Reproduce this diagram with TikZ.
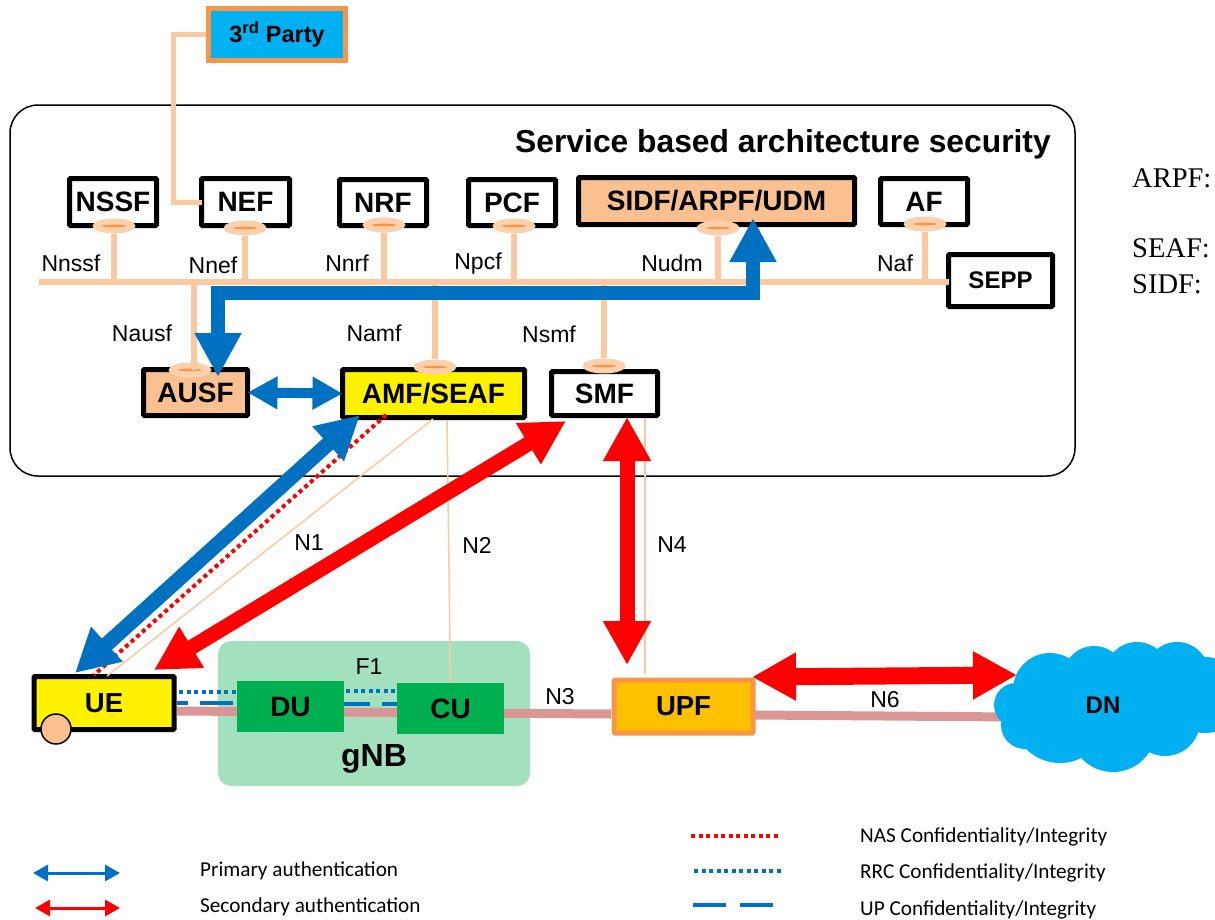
\documentclass[tikz,border=0pt]{standalone}
\usepackage{fontspec}
\setmainfont{Liberation Sans}
\newfontfamily\serifface{Liberation Serif}
\newfontfamily\legendface{Carlito}
\usetikzlibrary{arrows.meta,shapes.geometric}
\definecolor{peach}{HTML}{FBC9A0}
\definecolor{peachfill}{HTML}{FAC090}
\definecolor{orangeb}{HTML}{F79646}
\definecolor{bluea}{HTML}{0070C0}
\definecolor{redb}{HTML}{FF0000}
\definecolor{skyb}{HTML}{00B0F0}
\definecolor{pinkl}{HTML}{D99694}
\definecolor{gnbg}{HTML}{A3E1BE}
\definecolor{greenb}{HTML}{00B050}
\definecolor{upfy}{HTML}{FFC000}
\newcommand{\fsz}[1]{\fontsize{#1}{#1}\selectfont}
\tikzset{
  nf/.style={draw=black,line width=5pt,rounded corners=1pt,fill=white,inner sep=0pt,outer sep=0pt,font=\fsz{28}\bfseries},
  lens/.style={ellipse,fill=peachfill!75!white,draw=none,minimum width=43pt,minimum height=15pt,inner sep=0pt,
    path picture={\fill[orangeb] (path picture bounding box.center) ellipse (12 and 1.3);}},
  bus/.style={draw=peach,line width=6pt},
  thin peach/.style={draw=peach,line width=1.5pt},
  lbl/.style={font=\fsz{23},inner sep=0pt},
  legtext/.style={font=\legendface\fsz{21.2},inner sep=0pt,anchor=west},
  bigblue/.style={draw=bluea,line width=15pt,{Triangle[length=43pt,width=44pt]}-{Triangle[length=43pt,width=44pt]}},
  bigred/.style={draw=redb,line width=15pt,{Triangle[length=44pt,width=45pt]}-{Triangle[length=44pt,width=45pt]}},
  midblue/.style={draw=bluea,line width=10pt,{Triangle[length=30pt,width=31pt]}-{Triangle[length=30pt,width=31pt]}},
  legarrow/.style={line width=3pt,{Triangle[length=15pt,width=16pt]}-{Triangle[length=15pt,width=16pt]}},
  dotb/.style={draw=bluea,line width=4pt,dash pattern=on 4pt off 3.5pt},
  dotr/.style={draw=redb,line width=4pt,dash pattern=on 4pt off 3.5pt},
  rnote/.style={font=\serifface\fsz{28.5},inner sep=0pt,anchor=west}
}
\begin{document}
\begin{tikzpicture}[x=1pt,y=-1pt]
\useasboundingbox (0,0) rectangle (1215,919);
% SBA frame
\node[draw=black,line width=1.5pt,rounded corners=28pt,minimum width=1065pt,minimum height=371pt,inner sep=0pt] (sba) at (542.5,290.5) {};
\node[font=\fsz{31.8}\bfseries,inner sep=0pt,anchor=east] (title) at (1051,144) {Service based architecture security};
% third party
\node[draw=orangeb,line width=4.5pt,fill=skyb,minimum width=137pt,minimum height=52pt,inner sep=0pt,font=\fsz{23.5}\bfseries] (third) at (277,34.5) {3\textsuperscript{rd} Party};
% NF boxes
\node[nf,minimum width=87pt,minimum height=47pt] (NSSF) at (113,202) {NSSF};
\node[nf,minimum width=88pt,minimum height=47pt] (NEF) at (245.5,202) {NEF};
\node[nf,minimum width=87pt,minimum height=46pt] (NRF) at (383,202.5) {NRF};
\node[nf,minimum width=87pt,minimum height=46pt] (PCF) at (512,202.5) {PCF};
\node[nf,minimum width=276pt,minimum height=47pt,fill=peachfill] (SIDF) at (716.5,201) {SIDF/ARPF/UDM};
\node[nf,minimum width=87pt,minimum height=46pt] (AF) at (924,201.5) {AF};
\node[nf,minimum width=104pt,minimum height=52pt,font=\fsz{24}\bfseries] (SEPP) at (1000.5,280.5) {SEPP};
\node[nf,minimum width=104pt,minimum height=46pt,fill=peachfill] (AUSF) at (195.5,392.5) {AUSF};
\node[nf,minimum width=182pt,minimum height=48pt,fill=yellow] (AMF) at (433.5,393.5) {AMF/SEAF};
\node[nf,minimum width=106pt,minimum height=44pt] (SMF) at (604.5,393.5) {SMF};
% lens
\node[lens] (lNSSF) at (114,226) {};
\node[lens] (lNEF) at (245,228) {};
\node[lens] (lNRF) at (384,225) {};
\node[lens] (lPCF) at (514,226) {};
\node[lens] (lSIDF) at (718,228) {};
\node[lens] (lAF) at (925,224) {};
\node[lens] (lAUSF) at (190,370) {};
\node[lens] (lAMF) at (435,367) {};
\node[lens] (lSMF) at (604,366) {};
% bus
\coordinate (busL) at (39,282);
\draw[bus] (busL) -- (SEPP.west |- busL);
\draw[bus] (lNSSF) -- (lNSSF |- busL);
\draw[bus] (lNEF) -- (lNEF |- busL);
\draw[bus] (lNRF) -- (lNRF |- busL);
\draw[bus] (lPCF) -- (lPCF |- busL);
\draw[bus] (lSIDF) -- (lSIDF |- busL);
\draw[bus] (lAF) -- (lAF |- busL);
\coordinate (ausfTop) at (194,370);
\draw[bus] (ausfTop) -- (ausfTop |- busL);
\draw[bus] (lAMF) -- (lAMF |- busL);
\draw[bus] (lSMF) -- (lSMF |- busL);
\coordinate (tp) at (173,100);
\draw[bus,line width=5pt] (third.west) -| (tp) |- (NEF.west);
% gNB
\node[fill=gnbg,rounded corners=13pt,minimum width=312pt,minimum height=145pt,inner sep=0pt] (gNBbox) at (374,713.5) {};
\node[font=\fsz{32}\bfseries,inner sep=0pt] (gNB) at (374,759) {gNB};
\node[lbl] (F1) at (369,667) {F1};
% UE
\node[nf,fill=yellow,minimum width=140pt,minimum height=53pt,font=\fsz{27.5}\bfseries] (UE) at (104,703) {UE};
% UPF
\node[nf,draw=orangeb,fill=upfy,minimum width=139pt,minimum height=53pt,font=\fsz{27.5}\bfseries] (UPF) at (683.5,706.5) {UPF};
% user plane
\coordinate (n3a) at (177,711);
\coordinate (n3b) at (611,714);
\coordinate (n6a) at (755,715);
\coordinate (n6b) at (1016,717);
\draw[draw=pinkl,line width=9pt] (n3a) -- (n3b);
\draw[draw=pinkl,line width=9pt] (n6a) -- (n6b);
% DN cloud
\fill[skyb] (1050,690) circle (37) (1094,677) circle (31) (1137,674) circle (32)
  (1177,674) circle (32) (1205,695) circle (38) (1165,721) circle (35)
  (1113,729) circle (43) (1060,715) circle (48) (1025,725) circle (24)
  (1016,705) circle (22) (1110,705) ellipse (80 and 40);
\node[font=\fsz{24}\bfseries,inner sep=0pt] (DN) at (1103,705) {DN};
\coordinate (rrc1) at (179,692); \coordinate (rrc2) at (237,692);
\coordinate (rrc3) at (346,691); \coordinate (rrc4) at (397,691);
\coordinate (up1) at (177,703); \coordinate (up2) at (237,703);
\coordinate (up3) at (344,704); \coordinate (up4) at (397,704);
\draw[dotb] (rrc1) -- (rrc2);
\draw[dotb] (rrc3) -- (rrc4);
\draw[draw=bluea,line width=4pt,dash pattern=on 11pt off 12pt on 33pt off 100pt] (up1) -- (up2);
\draw[draw=bluea,line width=4pt,dash pattern=on 26pt off 12pt on 20pt off 100pt] (up3) -- (up4);
\node[fill=greenb,minimum width=107pt,minimum height=51pt,inner sep=0pt,font=\fsz{28}\bfseries] (DU) at (290.5,706.5) {DU};
\node[fill=greenb,minimum width=107pt,minimum height=51pt,inner sep=0pt,font=\fsz{28}\bfseries] (CU) at (450.5,708.5) {CU};
\node[circle,draw=black,line width=1.5pt,fill=peachfill,minimum size=30pt,inner sep=0pt] (uec) at (56,729) {};
% thin peach lines
\coordinate (n1a) at (433,419); \coordinate (n1b) at (107,676);
\coordinate (n2a) at (447,420);
\coordinate (n4a) at (645,418); \coordinate (n4b) at (645,674);
\draw[thin peach] (n1a) -- (n1b);
\draw[thin peach] (n2a) -- (CU.north);
\draw[thin peach] (n4a) -- (n4b);
% NAS dotted
\coordinate (nas1) at (386,415); \coordinate (nas2) at (94,675);
\draw[dotr] (nas1) -- (nas2);
% thick arrows
\coordinate (ua1) at (75,673); \coordinate (ua2) at (360,415);
\draw[bigblue] (ua1) -- (ua2);
\coordinate (ur1) at (154,670); \coordinate (ur2) at (566,421);
\draw[bigred] (ur1) -- (ur2);
\coordinate (sm1) at (627,417); \coordinate (sm2) at (627,665);
\draw[bigred] (sm1) -- (sm2);
\coordinate (u61) at (752,677); \coordinate (u62) at (1017,675);
\draw[bigred,line width=17pt] (u61) -- (u62);
\draw[midblue] (AUSF.east) -- (AMF.west);
\coordinate (sa) at (218,377); \coordinate (sb) at (753,218); \coordinate (sh) at (400,293);
\draw[draw=bluea,line width=14pt,-{Triangle[length=44pt,width=44pt]}] (sh) -| (sb);
\draw[draw=bluea,line width=14pt,-{Triangle[length=44pt,width=44pt]}] (sh) -| (sa);
% labels
\node[lbl] (Lnssf) at (71,263) {Nnssf};
\node[lbl] (Lnef) at (213,265) {Nnef};
\node[lbl] (Lnrf) at (347,263) {Nnrf};
\node[lbl] (Lpcf) at (478,264) {Npcf};
\node[lbl] (Ludm) at (672,263) {Nudm};
\node[lbl] (Laf) at (895,263) {Naf};
\node[lbl] (Lausf) at (142,333) {Nausf};
\node[lbl] (Lamf) at (374,333) {Namf};
\node[lbl] (Lsmf) at (549,334) {Nsmf};
\node[lbl] (Ln1) at (309,543) {N1};
\node[lbl] (Ln2) at (477,545) {N2};
\node[lbl] (Ln4) at (672,545) {N4};
\node[lbl] (Ln3) at (560,697) {N3};
\node[lbl] (Ln6) at (885,700) {N6};
% right notes
\node[rnote] (arpf) at (1132,178) {ARPF:};
\node[rnote] (seaf) at (1132,248) {SEAF:};
\node[rnote] (sidf) at (1132,284) {SIDF:};
% legend
\coordinate (a1) at (33,873); \coordinate (a2) at (120,873);
\coordinate (b1) at (35,908); \coordinate (b2) at (120,908);
\draw[legarrow,draw=bluea] (a1) -- (a2);
\draw[legarrow,draw=redb] (b1) -- (b2);
\node[legtext] (t1) at (200,871) {Primary authentication};
\node[legtext] (t2) at (200,907) {Secondary authentication};
\coordinate (c1) at (691,836); \coordinate (c2) at (778,836);
\coordinate (d1) at (694,871); \coordinate (d2) at (781,871);
\coordinate (e1) at (693,905); \coordinate (e2) at (773,905);
\draw[dotr] (c1) -- (c2);
\draw[dotb] (d1) -- (d2);
\draw[draw=bluea,line width=4pt,dash pattern=on 33pt off 14pt] (e1) -- (e2);
\node[legtext] (t3) at (860,837) {NAS Confidentiality/Integrity};
\node[legtext] (t4) at (860,873) {RRC Confidentiality/Integrity};
\node[legtext] (t5) at (860,910) {UP Confidentiality/Integrity};
\end{tikzpicture}
\end{document}
